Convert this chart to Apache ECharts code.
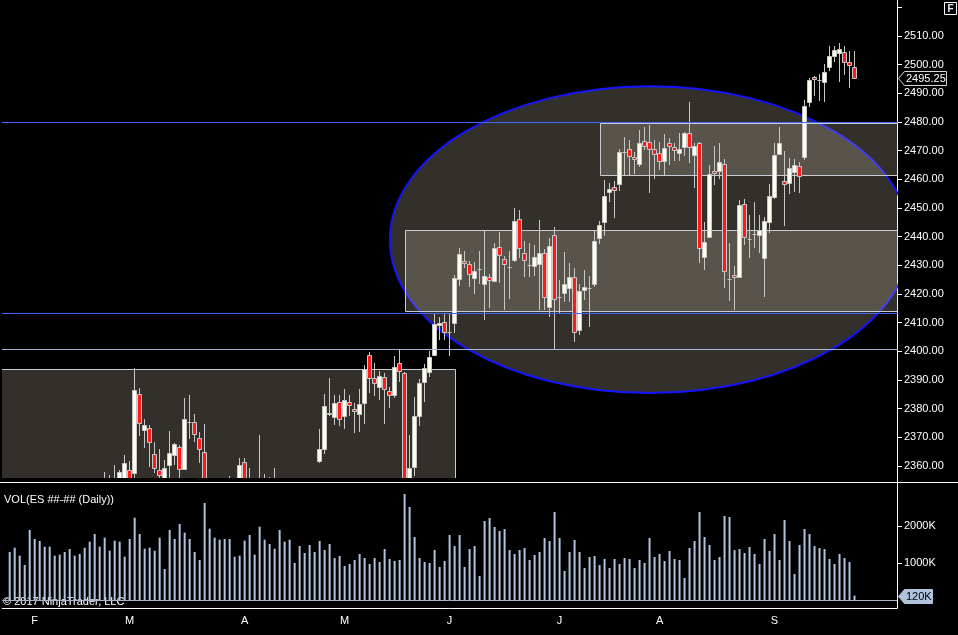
<!DOCTYPE html>
<html>
<head>
<meta charset="utf-8">
<script src="https://cdn.jsdelivr.net/npm/echarts@6/dist/echarts.min.js"></script>
<style>
  html, body { margin: 0; padding: 0; background: #000; }
  #chart { width: 958px; height: 635px; }
</style>
</head>
<body>
<div id="chart"></div>
<script>
// ES 日线，2017 年 1 月底到 9 月
var opens = [
  2290, 2295, 2297, 2292, 2284, 2276, 2279, 2280, 2292, 2290,
  2292, 2300, 2308, 2318, 2326, 2337, 2342, 2344, 2348, 2346,
  2350, 2351, 2350, 2352, 2358.5, 2357.5, 2385, 2372.7, 2373.1, 2364.1,
  2358.5, 2355, 2360.3, 2363.7, 2366.5, 2359, 2375.3, 2375.3, 2369.7, 2364.8,
  2340, 2345, 2343, 2348, 2342, 2352, 2346, 2361.3, 2345, 2350,
  2340, 2345, 2338, 2335, 2330, 2340, 2333, 2325, 2335, 2345,
  2348, 2344, 2361.6, 2365.9, 2378.6, 2377.2, 2382.3, 2377.4, 2382.3, 2379.9,
  2378, 2381.9, 2398.7, 2390.6, 2387.7, 2391, 2386.2, 2384.7, 2395.8, 2392.6,
  2352, 2359.8, 2377.6, 2389.4, 2392.9, 2398.7, 2409.1, 2410.2, 2406.9, 2409.8,
  2425.1, 2431.5, 2430.4, 2425.5, 2428.6, 2423.5, 2426.1, 2424.6, 2436.5, 2432.1,
  2429.5, 2431.9, 2446.1, 2434.2, 2430.1, 2429.8, 2430.5, 2434.2, 2415.4, 2440.5,
  2419.1, 2420.3, 2422, 2426, 2407.5, 2421.4, 2422.2, 2423.4, 2439.4, 2445,
  2455.5, 2457.4, 2458.3, 2469.6, 2470.6, 2467.9, 2465.2, 2473.5, 2472.9, 2470.5,
  2469.1, 2466.4, 2472.6, 2471.4, 2469.1, 2471.2, 2476.1, 2468.4, 2472.6, 2432.8,
  2439.8, 2462.8, 2462.8, 2465.2, 2425.1, 2426.8, 2426, 2451.3, 2439.1, 2440.9,
  2440.6, 2432.5, 2445, 2453.7, 2468.8, 2459.5, 2458.6, 2462.5, 2464.8, 2467.9,
  2486.9, 2495.6, 2494.7, 2493.9, 2499.1, 2503, 2504, 2504.5, 2500.8, 2499.1
];
var highs = [
  2297, 2300, 2299, 2296, 2290, 2284, 2285, 2295, 2296, 2295,
  2302, 2310, 2320, 2330, 2340, 2345, 2346, 2350, 2352, 2357.9,
  2356.9, 2360.4, 2358.6, 2363.9, 2361.8, 2394.2, 2387.2, 2376.3, 2374.2, 2368.4,
  2366, 2362.1, 2372.2, 2368, 2367.3, 2383.7, 2384.8, 2378.2, 2372, 2374.7,
  2348, 2352, 2350, 2353, 2356.5, 2354, 2362.7, 2362.7, 2359.3, 2353,
  2370.8, 2357.2, 2356.2, 2359.3, 2345, 2350, 2340, 2338, 2348, 2352,
  2353, 2352, 2372.9, 2385.1, 2390.6, 2384.8, 2384.8, 2386.8, 2384.8, 2382.1,
  2386.8, 2395.2, 2399.7, 2395.9, 2393.2, 2392.5, 2387.7, 2398.2, 2400.5, 2392.9,
  2370.8, 2384.2, 2390.4, 2395.6, 2400, 2413.5, 2412.1, 2412.9, 2412.9, 2426.6,
  2436.2, 2435.1, 2431.6, 2431.3, 2435, 2442, 2427, 2437.9, 2441.5, 2433.3,
  2435, 2449.9, 2449.3, 2438.5, 2437.7, 2437.1, 2445.8, 2435.6, 2439.4, 2443.3,
  2424.9, 2434.8, 2430.7, 2429, 2423.4, 2428.4, 2426.3, 2442, 2445.6, 2459.8,
  2458.8, 2459.5, 2470.5, 2474.7, 2473.7, 2469.4, 2477.2, 2478.4, 2479, 2473.7,
  2473.1, 2475.7, 2474.3, 2472.8, 2476.1, 2476.5, 2486.9, 2472.6, 2473.1, 2445,
  2465, 2471.6, 2472.6, 2467, 2437.7, 2429.8, 2452.8, 2453.1, 2447.6, 2452.1,
  2447.6, 2447, 2458.3, 2472.8, 2478.2, 2469.9, 2467.3, 2467, 2466.2, 2487.7,
  2495.5, 2496.2, 2496.7, 2500.2, 2506.5, 2506.5, 2507.5, 2506.5, 2504.8, 2504.8
];
var lows = [
  2285, 2290, 2288, 2280, 2268, 2270, 2272, 2278, 2286, 2285,
  2290, 2298, 2306, 2315, 2322, 2335, 2330, 2340, 2342, 2343,
  2345, 2347, 2346, 2349, 2348, 2354, 2370.5, 2366.4, 2359.8, 2357.5,
  2352, 2351, 2352, 2360.4, 2353, 2358.6, 2369.3, 2368.5, 2361.2, 2337,
  2335, 2340, 2338, 2340, 2338, 2340, 2343, 2342, 2338, 2335,
  2336, 2330, 2328, 2325, 2322, 2330, 2320, 2318, 2330, 2340,
  2338, 2340, 2361, 2364.1, 2377.5, 2374.3, 2374.1, 2372.8, 2377.5, 2371.4,
  2371.8, 2374.7, 2385.6, 2384.5, 2383.1, 2374.8, 2380.1, 2383.8, 2389.4, 2350,
  2347, 2356.6, 2374, 2382.4, 2391.2, 2398.4, 2404, 2404, 2398.5, 2406.5,
  2422.8, 2429, 2422.4, 2419.9, 2423.4, 2410.9, 2415, 2424.3, 2424, 2414.4,
  2418.3, 2431.3, 2432.5, 2426, 2426, 2426.3, 2414.4, 2414.4, 2411.9, 2400.5,
  2413.3, 2417.3, 2417.3, 2403.4, 2405.7, 2417.9, 2408.4, 2422.4, 2437.3, 2440.4,
  2452.2, 2446.4, 2456, 2461.5, 2461.5, 2461.8, 2464.4, 2470.2, 2455.3, 2460,
  2463.3, 2461.5, 2465, 2466.4, 2466.4, 2468.1, 2465.8, 2457.1, 2430.9, 2428.4,
  2439.5, 2458, 2460.1, 2422, 2417.7, 2414.4, 2425.7, 2437.1, 2432.7, 2436,
  2434.4, 2419.1, 2441.2, 2453, 2468.5, 2443.8, 2454.8, 2455.7, 2455.3, 2466.7,
  2485.3, 2489.2, 2487.4, 2487.1, 2497.9, 2501, 2494.1, 2496.4, 2492, 2495
];
var closes = [
  2295, 2297, 2292, 2284, 2276, 2279, 2280, 2292, 2290, 2292,
  2300, 2308, 2318, 2326, 2337, 2342, 2344, 2348, 2346, 2350,
  2351, 2352, 2357.8, 2361, 2352, 2386.5, 2374.9, 2374.2, 2368.3, 2359.2,
  2356.8, 2359.2, 2364.4, 2367.6, 2358.8, 2376.3, 2375.3, 2371.1, 2366, 2340,
  2345, 2343, 2348, 2342, 2352, 2346, 2360.3, 2345, 2350, 2340,
  2345, 2338, 2335, 2330, 2340, 2333, 2325, 2335, 2345, 2348,
  2344, 2350, 2366, 2380.8, 2378.2, 2382, 2376.3, 2382.9, 2381.4, 2379.1,
  2381.6, 2393.7, 2390.8, 2389.1, 2391.3, 2386.8, 2384.7, 2394.4, 2393.2, 2353,
  2359.2, 2377.5, 2388.9, 2394.1, 2397.9, 2409.4, 2409.8, 2406.7, 2406.9, 2425.5,
  2433.9, 2430.7, 2426.9, 2428, 2428.6, 2426.3, 2424.9, 2436.2, 2433.5, 2430.4,
  2429.5, 2445.6, 2436, 2431.9, 2430.1, 2433, 2434.2, 2418.9, 2436.9, 2418.2,
  2419.1, 2423.4, 2426, 2406.7, 2421, 2422.6, 2422.2, 2438.5, 2444.1, 2454.3,
  2456.8, 2456.3, 2469.6, 2469.6, 2468.1, 2467, 2472.6, 2471.6, 2470.5, 2468.7,
  2466.4, 2470.9, 2471.7, 2470.2, 2470.5, 2476.1, 2471.2, 2471.6, 2436, 2438.3,
  2461.8, 2462.1, 2465.9, 2428, 2425.1, 2426, 2451, 2439.8, 2439.1, 2440.9,
  2442.3, 2445.5, 2454.2, 2468.5, 2472.6, 2458.4, 2463.9, 2465, 2461.3, 2485.7,
  2494.7, 2494.9, 2494.7, 2497.3, 2503, 2505.1, 2505.4, 2501, 2499.8, 2495.25
];
// 成交量（千手）
var volumes = [
  1297, 1414, 1198, 946, 1892, 1649, 1595, 1441, 1441, 1198,
  1225, 1297, 1378, 1198, 1243, 1414, 1577, 1784, 1441, 1685,
  1333, 1604, 1577, 1171, 1649, 2225, 1784, 1387, 1414, 1333,
  1685, 838, 1892, 1649, 2054, 1820, 1649, 1297, 1081, 2622,
  1928, 1685, 1631, 1649, 1649, 1171, 1198, 1604, 1757, 1225,
  1982, 1631, 1514, 1387, 1892, 1577, 1631, 1000, 1459, 1270,
  1486, 1297, 1595, 1351, 1514, 1135, 1189, 919, 973, 1081,
  1243, 1135, 973, 1135, 1027, 1378, 1108, 1054, 1081, 2865,
  2514, 1703, 1135, 1027, 1000, 1351, 892, 1054, 1757, 1459,
  1757, 892, 1378, 1459, 649, 2135, 2216, 1973, 1865, 1919,
  1351, 1243, 1351, 1405, 1081, 1216, 1297, 1676, 1595, 2378,
  1676, 784, 1297, 1622, 1297, 865, 1162, 1189, 946, 1108,
  865, 1108, 973, 1135, 1108, 865, 1081, 1000, 1676, 1162,
  1243, 1054, 1324, 1108, 1081, 595, 1405, 1595, 2378, 1703,
  1486, 1081, 1162, 2270, 2243, 1351, 1378, 1270, 1432, 1243,
  973, 1649, 1324, 1784, 1081, 2162, 1595, 703, 1486, 1919,
  1784, 1459, 1405, 1378, 1108, 973, 1243, 1135, 1027, 120
];
var monthStarts = [5, 24, 47, 67, 88, 110, 130, 153];
var monthNames = ['F', 'M', 'A', 'M', 'J', 'J', 'A', 'S'];
var priceLabels = [2360, 2370, 2380, 2390, 2400, 2410, 2420, 2430, 2440, 2450, 2460, 2470, 2480, 2490, 2500, 2510];
var priceTickMarks = priceLabels.concat([2520]);
var volumeLabels = [1000, 2000];
var lastPrice = 2495.25;

// 画图对象：水平线、矩形 [左, 右, 上, 下]、椭圆
var blueLines = [2480, 2413.5];
var greyLines = [2400.8];
var boxes = [
  [-2, 89.1, 2393.7, 2340],
  [79.1, 200, 2442.2, 2413.6],
  [118.1, 200, 2479.6, 2461.1]
];
var ellipseBox = [76.06, 180.06, 2492.45, 2385.45];

var padLeft = 1, padRight = 8;
var nCats = padLeft + opens.length + padRight;
var categories = [];
for (var k = 0; k < nCats; k++) categories.push(String(k));
var monthAt = {};
monthStarts.forEach(function (b, j) { monthAt[b + padLeft] = monthNames[j]; });

var candleData = opens.map(function (o, i) {
  return [i + padLeft, o, closes[i], lows[i], highs[i]];
});
var volumeData = volumes.map(function (v, i) { return [i + padLeft, v]; });

var shade = 'rgba(212,200,179,0.24)';
var font = 'Liberation Sans';
var wickColor = '#c8c8c8';

function barX(api, i, p) {
  var a = api.coord([0, p]);
  var b = api.coord([1, p]);
  return a[0] + (b[0] - a[0]) * (i + padLeft);
}

function renderCandle(params, api) {
  var x = api.value(0);
  var o = api.value(1), c = api.value(2), l = api.value(3), h = api.value(4);
  var col = Math.floor(api.coord([x, o])[0]) + 0.5;
  var yO = Math.round(api.coord([x, o])[1]);
  var yC = Math.round(api.coord([x, c])[1]);
  var yH = Math.round(api.coord([x, h])[1]);
  var yL = Math.round(api.coord([x, l])[1]);
  var top = Math.min(yO, yC), bottom = Math.max(yO, yC);
  var children = [{
    type: 'line',
    shape: { x1: col, y1: yH, x2: col, y2: yL },
    style: { stroke: wickColor, lineWidth: 1 }
  }];
  if (bottom - top < 1) {
    children.push({
      type: 'line',
      shape: { x1: col - 2, y1: top + 0.5, x2: col + 2, y2: top + 0.5 },
      style: { stroke: wickColor, lineWidth: 1 }
    });
  } else {
    children.push({
      type: 'rect',
      shape: { x: col - 2, y: top + 0.5, width: 4, height: bottom - top },
      style: { fill: c >= o ? '#fffff0' : '#ff1a1a', stroke: wickColor, lineWidth: 1 }
    });
  }
  return { type: 'group', children: children };
}

function lineSeries(prices, color) {
  return {
    type: 'custom', xAxisIndex: 0, yAxisIndex: 0, clip: true, z: 4, silent: true,
    data: prices.map(function (p) { return [0, p]; }),
    itemStyle: { color: color },
    renderItem: function (params, api) {
      var p = api.value(1);
      var y = Math.round(api.coord([0, p])[1]) + 0.5;
      return {
        type: 'line',
        shape: { x1: barX(api, -5, p), y1: y, x2: barX(api, 200, p), y2: y },
        style: { stroke: color, lineWidth: 1 }
      };
    }
  };
}

var chart = echarts.init(document.getElementById('chart'));

var option = {
  backgroundColor: '#000',
  animation: false,
  textStyle: { fontFamily: font },
  grid: [
    { left: 2.2, right: 61, top: 0, height: 478 },
    { left: 2.2, right: 61, top: 483, height: 125 }
  ],
  xAxis: [
    { type: 'category', gridIndex: 0, data: categories, show: false },
    {
      type: 'category', gridIndex: 1, data: categories,
      axisLine: { onZero: false, lineStyle: { color: '#fff', width: 1 } },
      axisTick: {
        alignWithLabel: true, length: 6,
        interval: function (idx) { return monthAt[idx] !== undefined; },
        lineStyle: { color: '#fff' }
      },
      axisLabel: {
        interval: 0, margin: 7, color: '#fff', fontSize: 11, fontFamily: font,
        formatter: function (v, idx) { return monthAt[idx] || ''; }
      },
      splitLine: { show: false }
    }
  ],
  yAxis: [
    {
      type: 'value', gridIndex: 0, position: 'right',
      min: 2355.81, max: 2522.56,
      axisLine: { show: true, lineStyle: { color: '#fff' } },
      axisTick: { show: true, length: 5, customValues: priceTickMarks, lineStyle: { color: '#fff' } },
      axisLabel: {
        customValues: priceLabels, margin: 7, color: '#fff', fontSize: 11, fontFamily: font,
        formatter: function (v) { return v.toFixed(2); }
      },
      splitLine: { show: false }
    },
    {
      type: 'value', gridIndex: 1, position: 'right',
      min: -216, max: 3162,
      axisLine: { show: true, lineStyle: { color: '#fff' } },
      axisTick: { show: true, length: 5, customValues: volumeLabels, lineStyle: { color: '#fff' } },
      axisLabel: {
        customValues: volumeLabels, margin: 7, color: '#fff', fontSize: 11, fontFamily: font,
        formatter: function (v) { return v + 'K'; }
      },
      splitLine: { show: false }
    }
  ],
  series: [
    {
      type: 'custom', xAxisIndex: 0, yAxisIndex: 0, clip: true, z: 1, silent: true,
      data: [[0, 2440]],
      renderItem: function (params, api) {
        var x1 = barX(api, ellipseBox[0], ellipseBox[2]);
        var x2 = barX(api, ellipseBox[1], ellipseBox[2]);
        var y1 = api.coord([0, ellipseBox[2]])[1];
        var y2 = api.coord([0, ellipseBox[3]])[1];
        return {
          type: 'ellipse',
          shape: { cx: (x1 + x2) / 2, cy: (y1 + y2) / 2, rx: (x2 - x1) / 2, ry: (y2 - y1) / 2 },
          style: { fill: shade, stroke: '#1414ff', lineWidth: 2 }
        };
      }
    },
    {
      type: 'custom', xAxisIndex: 0, yAxisIndex: 0, clip: true, z: 2, silent: true,
      data: [[0, 2440]],
      renderItem: function (params, api) {
        var children = boxes.map(function (b) {
          var x1 = Math.round(barX(api, b[0], b[2])) + 0.5;
          var x2 = Math.round(barX(api, b[1], b[2])) + 0.5;
          var y1 = Math.round(api.coord([0, b[2]])[1]) + 0.5;
          var y2 = Math.round(api.coord([0, b[3]])[1]) - 0.5;
          return {
            type: 'rect',
            shape: { x: x1, y: y1, width: x2 - x1, height: y2 - y1 },
            style: { fill: shade, stroke: '#c8cdd4', lineWidth: 1 }
          };
        });
        return { type: 'group', children: children };
      }
    },
    lineSeries(blueLines, '#3f66ff'),
    lineSeries(greyLines, '#a9b6d6'),
    {
      type: 'custom', xAxisIndex: 0, yAxisIndex: 0, clip: true, z: 3, silent: true,
      data: candleData,
      encode: { x: 0, y: [1, 2, 3, 4] },
      renderItem: renderCandle
    },
    {
      type: 'bar', xAxisIndex: 1, yAxisIndex: 1,
      data: volumeData,
      barWidth: 2,
      itemStyle: { color: '#b0c4de' },
      markLine: {
        silent: true, symbol: 'none', label: { show: false },
        lineStyle: { color: '#a9b4c4', width: 1, type: 'solid' },
        data: [{ yAxis: 0 }]
      }
    }
  ]
};

chart.setOption(option);

var yLast = Math.round(chart.convertToPixel({ yAxisIndex: 0 }, lastPrice));
var yVol = Math.round(chart.convertToPixel({ yAxisIndex: 1 }, volumes[volumes.length - 1]));

chart.setOption({
  graphic: [
    { type: 'line', silent: true, shape: { x1: 0, y1: 482.5, x2: 958, y2: 482.5 }, style: { stroke: '#fff', lineWidth: 1 } },
    { type: 'line', silent: true, shape: { x1: 897.5, y1: 477, x2: 897.5, y2: 484 }, style: { stroke: '#fff', lineWidth: 1 } },
    { type: 'rect', silent: true, shape: { x: 944.5, y: 2.5, width: 12, height: 12 }, style: { fill: '#000', stroke: '#fff', lineWidth: 1 } },
    { type: 'text', silent: true, x: 950.5, y: 9, style: { text: 'F', fill: '#dfeaff', font: 'bold 10px "Liberation Sans"', align: 'center', verticalAlign: 'middle' } },
    { type: 'text', silent: true, x: 4, y: 500, style: { text: 'VOL(ES ##-## (Daily))', fill: '#fff', font: '11px "Liberation Sans"', verticalAlign: 'middle' } },
    { type: 'text', silent: true, x: 3, y: 602, style: { text: '\u00a9 2017 NinjaTrader, LLC', fill: '#fff', font: '11px "Liberation Sans"', verticalAlign: 'middle' } },
    {
      type: 'polygon', silent: true,
      shape: { points: [[898.5, yLast + 0.5], [904.5, yLast - 6.5], [946.5, yLast - 6.5], [946.5, yLast + 7.5], [904.5, yLast + 7.5]] },
      style: { fill: '#000', stroke: '#d8d8d8', lineWidth: 1 }
    },
    { type: 'text', silent: true, x: 906, y: yLast + 1, style: { text: lastPrice.toFixed(2), fill: '#fff', font: '11px "Liberation Sans"', verticalAlign: 'middle' } },
    {
      type: 'polygon', silent: true,
      shape: { points: [[898.5, yVol + 0.5], [904.5, yVol - 6.5], [932.5, yVol - 6.5], [932.5, yVol + 7.5], [904.5, yVol + 7.5]] },
      style: { fill: '#b0c4de', stroke: '#b0c4de', lineWidth: 1 }
    },
    { type: 'text', silent: true, x: 906, y: yVol + 1, style: { text: volumes[volumes.length - 1] + 'K', fill: '#000', font: '11px "Liberation Sans"', verticalAlign: 'middle' } }
  ]
});
</script>
</body>
</html>
